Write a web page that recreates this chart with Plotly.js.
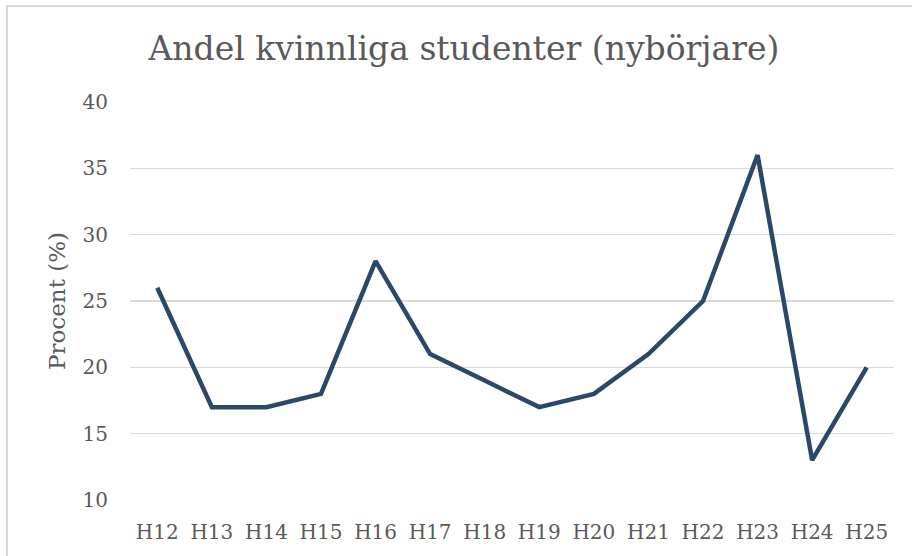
<!DOCTYPE html>
<html>
<head>
<meta charset="utf-8">
<script src="https://cdn.plot.ly/plotly-3.0.1.min.js"></script>
<style>
  html, body { margin: 0; padding: 0; background: #fff; }
  #wrap { position: absolute; left: 0; top: 0; width: 912px; height: 556px; overflow: hidden; }
  #frame { position: absolute; left: 6px; top: 5px; width: 1000px; height: 1000px; border-left: 2px solid #d9d9d9; border-top: 2px solid #d9d9d9; pointer-events: none; }
  #chart { position: absolute; left: 0; top: 0; width: 912px; height: 556px; }
</style>
</head>
<body>
<div id="wrap">
  <div id="chart"></div>
  <div id="frame"></div>
</div>
<script>
const categories = ["H12","H13","H14","H15","H16","H17","H18","H19","H20","H21","H22","H23","H24","H25"];
const values = [26, 17, 17, 18, 28, 21, 19, 17, 18, 21, 25, 36, 13, 20];
const yTicks = [10, 15, 20, 25, 30, 35, 40];
const titleText = "Andel kvinnliga studenter (nybörjare)";
const yTitleText = "Procent (%)";

const fontFam = "DejaVu Serif, Liberation Serif, serif";

Plotly.newPlot('chart', [{
  type: 'scatter',
  mode: 'lines',
  x: categories,
  y: values,
  line: { color: '#2b4868', width: 4.5 },
  hoverinfo: 'x+y'
}], {
  width: 912,
  height: 556,
  margin: { l: 130, r: 18, t: 102, b: 56 },
  paper_bgcolor: '#ffffff',
  plot_bgcolor: '#ffffff',
  showlegend: false,
  title: {
    text: titleText,
    font: { family: fontFam, size: 33, color: '#595959' },
    x: 464/912, xanchor: 'center', xref: 'container',
    y: 1 - 48/556, yanchor: 'middle'
  },
  xaxis: {
    type: 'category',
    range: [-0.5, 13.5],
    showgrid: false,
    zeroline: false,
    showline: false,
    ticks: '',
    ticklabelstandoff: 18,
    tickfont: { family: fontFam, size: 20, color: '#595959' }
  },
  yaxis: {
    range: [10, 40],
    tickvals: yTicks,
    ticktext: yTicks.map(String),
    showgrid: true,
    gridcolor: '#d9d9d9',
    gridwidth: 1.5,
    zeroline: false,
    showline: false,
    ticks: '',
    ticklabelstandoff: 21,
    tickfont: { family: fontFam, size: 20, color: '#595959' },
    title: { text: yTitleText, font: { family: fontFam, size: 23, color: '#595959' }, standoff: 10 }
  }
}, { displayModeBar: false, staticPlot: true });
</script>
</body>
</html>
